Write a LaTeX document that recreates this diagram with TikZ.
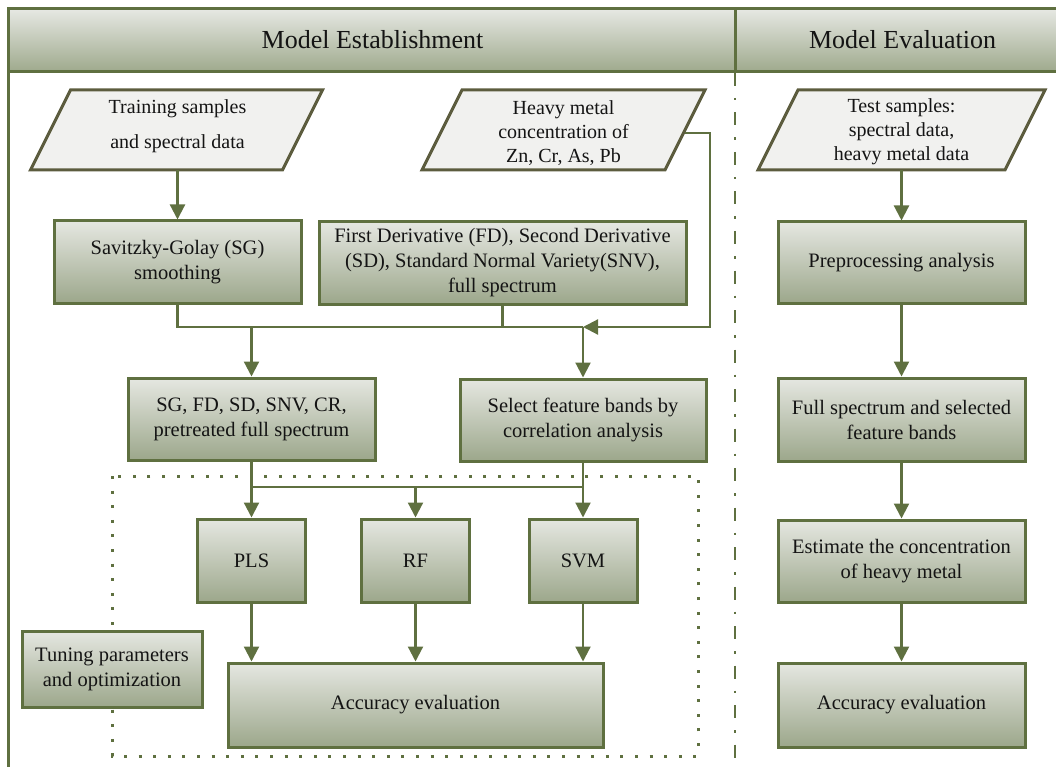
\documentclass[tikz,border=0pt]{standalone}
\usepackage{fontspec}
\setmainfont{Liberation Serif}
\usetikzlibrary{arrows.meta}
\definecolor{bord}{RGB}{95,112,64}
\definecolor{pbord}{RGB}{92,92,62}
\definecolor{pfill}{RGB}{241,241,239}
\definecolor{bxtop}{RGB}{229,231,225}
\definecolor{bxbot}{RGB}{156,167,139}
\definecolor{hdtop}{RGB}{230,232,227}
\definecolor{hdbot}{RGB}{158,169,140}
\definecolor{txt}{RGB}{20,20,20}
\tikzset{
  box/.style={draw=bord, line width=3pt, top color=bxtop, bottom color=bxbot, align=center, inner sep=0pt, text=txt, font=\fontsize{20.5}{25}\selectfont},
  para/.style={draw=pbord, line width=3pt, fill=pfill, line join=miter},
  ptext/.style={align=center, inner sep=0pt, text=txt, font=\fontsize{20}{24}\selectfont},
  conn/.style={draw=bord, line width=2.2pt},
  arr/.style={conn, -{Triangle[width=15pt,length=15pt]}},
  dotbox/.style={draw=bord, line width=3pt, dash pattern=on 3pt off 11.6pt},
  divider/.style={draw=bord, line width=2.2pt, dash pattern=on 13pt off 12pt on 2.5pt off 12pt},
  frame/.style={draw=bord, line width=3pt},
  head/.style={text=txt, font=\fontsize{26}{30}\selectfont, inner sep=0pt}
}
\begin{document}
\begin{tikzpicture}[x=1pt,y=-1pt]
\useasboundingbox (0,0) rectangle (1056,767);
% header
\shade[top color=hdtop, bottom color=hdbot] (8,9) rectangle (1056,72);
\draw[frame] (1056,9) -- (8,9) -- (8,767);
\draw[frame] (8,72) -- (1056,72);
\draw[frame] (735,9) -- (735,72);
\draw[divider] (735,73) -- (735,767);
\node[head] (h1) at (372.5,40) {Model Establishment};
\node[head] (h2) at (902.5,40) {Model Evaluation};

% dotted box
\draw[dotbox] (112,476) rectangle (698,756);

% parallelograms
\draw[para] (70.5,90) -- (322.5,90) -- (282.5,170) -- (30.5,170) -- cycle;
\node[ptext, minimum width=252pt, minimum height=88pt] (train) at (177.5,126) {Training samples\\[11pt]and spectral data};
\draw[para] (462,90) -- (705,90) -- (665,170) -- (422,170) -- cycle;
\node[ptext, minimum width=243pt, minimum height=74pt] (heavy) at (563.5,133) {Heavy metal\\concentration of\\Zn, Cr, As, Pb};
\draw[para] (798,90) -- (1045,90) -- (1005,170) -- (758,170) -- cycle;
\node[ptext, minimum width=247pt, minimum height=76pt] (test) at (901.5,132) {Test samples:\\spectral data,\\heavy metal data};

% left column boxes
\node[box, minimum width=247pt, minimum height=82pt] (sg) at (177.5,262) {Savitzky-Golay (SG)\\smoothing};
\node[box, minimum width=367pt, minimum height=82pt] (fd) at (502.5,263) {First Derivative (FD), Second Derivative\\(SD), Standard Normal Variety(SNV),\\full spectrum};
\node[box, minimum width=247pt, minimum height=82pt] (pre) at (251.5,419) {SG, FD, SD, SNV, CR,\\pretreated full spectrum};
\node[box, minimum width=246pt, minimum height=82pt] (sel) at (583,420) {Select feature bands by\\correlation analysis};
\node[box, minimum width=108pt, minimum height=83pt] (pls) at (251.5,560.5) {PLS};
\node[box, minimum width=108pt, minimum height=83pt] (rf) at (415.5,560.5) {RF};
\node[box, minimum width=108pt, minimum height=83pt] (svm) at (583,560.5) {SVM};
\node[box, minimum width=375pt, minimum height=84pt] (acc) at (415.5,705) {Accuracy evaluation};
\node[box, minimum width=180pt, minimum height=76pt] (tun) at (112,669) {Tuning parameters\\and optimization};

% right column boxes
\node[box, minimum width=247pt, minimum height=81pt] (prep) at (901.5,262.5) {Preprocessing analysis};
\node[box, minimum width=247pt, minimum height=83pt] (full) at (901.5,419.5) {Full spectrum and selected\\feature bands};
\node[box, minimum width=247pt, minimum height=82pt] (est) at (901.5,561) {Estimate the concentration\\of heavy metal};
\node[box, minimum width=247pt, minimum height=84pt] (acc2) at (901.5,705) {Accuracy evaluation};

% connectors left
\coordinate (bus) at (0,327);
\coordinate (bus2) at (0,487);
\draw[arr] (train.south) -- (sg.north);
\draw[conn] (sg.south) |- (sel.north |- bus);
\draw[conn] (fd.south) -- (fd.south |- bus);
\draw[arr] (heavy.east) -- ++(25,0) |- (sel.north |- bus);
\draw[arr] (pre.north |- bus) -- (pre.north);
\draw[arr] (sel.north |- bus) -- (sel.north);
\draw[arr] (pre.south) -- (pls.north);
\draw[arr] (sel.south) -- (svm.north);
\draw[conn] (pre.south |- bus2) -- (sel.south |- bus2);
\draw[arr] (rf.north |- bus2) -- (rf.north);
\draw[arr] (pls.south) -- (pls.south |- acc.north);
\draw[arr] (rf.south) -- (rf.south |- acc.north);
\draw[arr] (svm.south) -- (svm.south |- acc.north);

% connectors right
\draw[arr] (test.south) -- (prep.north);
\draw[arr] (prep.south) -- (full.north);
\draw[arr] (full.south) -- (est.north);
\draw[arr] (est.south) -- (acc2.north);
\end{tikzpicture}
\end{document}
